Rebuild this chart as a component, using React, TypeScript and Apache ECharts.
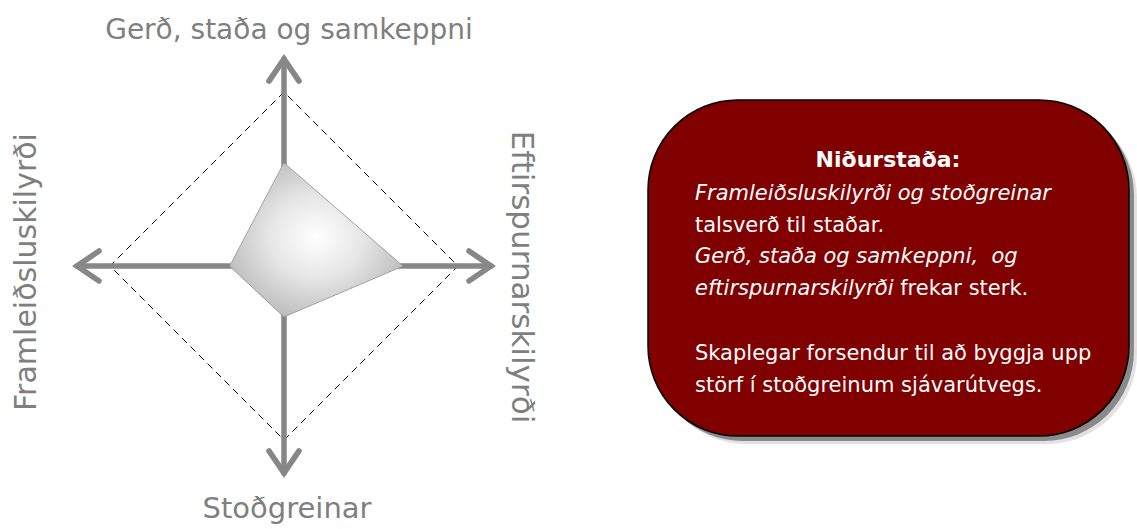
import React, { useEffect, useRef } from "react";
import * as echarts from "echarts";

const indicatorNames = [
  "Gerð, staða og samkeppni",
  "Framleiðsluskilyrði",
  "Stoðgreinar",
  "Eftirspurnarskilyrði",
];
const scores = [5.9, 3.1, 2.9, 6.8];
const maxScore = 10;

const boxTitle = "Niðurstaða:";
const boxLines = [
  "{i|Framleiðsluskilyrði og stoðgreinar}",
  "{n|talsverð til staðar.}",
  "{i|Gerð, staða og samkeppni,  og}",
  "{i|eftirspurnarskilyrði}{n| frekar sterk.}",
  "",
  "{n|Skaplegar forsendur til að byggja upp}",
  "{n|störf í stoðgreinum sjávarútvegs.}",
];

const FONT = '"DejaVu Sans", sans-serif';
const CHEVRON =
  "path://M-17.31 20.42L0 -4.97L17.31 20.42A2.8 2.8 0 0 1 12.69 23.58L0 4.97L-12.69 23.58A2.8 2.8 0 0 1 -17.31 20.42Z";

export default function App() {
  const ref = useRef<HTMLDivElement>(null);
  useEffect(() => {
    if (!ref.current) return;
    const chart = echarts.init(ref.current, undefined, { renderer: "svg" });
    const cx = 284;
    const cy = 266;
    const lineY = [193, 225, 256, 288, 320, 353, 385];
    const textEls: any[] = [];
    boxLines.forEach((ln, i) => {
      if (!ln) return;
      textEls.push({
        type: "text",
        x: 695,
        y: lineY[i],
        style: {
          text: ln,
          fill: "#fff",
          font: `21px ${FONT}`,
          align: "left",
          verticalAlign: "middle",
          rich: {
            i: { fontStyle: "italic", fontSize: 21, fontFamily: "DejaVu Sans", color: "#fff" },
            n: { fontSize: 21, fontFamily: "DejaVu Sans", color: "#fff" },
          },
        },
      });
    });
    chart.setOption({
      animation: false,
      backgroundColor: "#fff",
      radar: [
        {
          center: [cx, cy],
          radius: 207,
          startAngle: 90,
          shape: "polygon",
          splitNumber: 1,
          indicator: indicatorNames.map((n) => ({ name: n, max: maxScore })),
          axisName: { show: false },
          splitLine: { show: false },
          splitArea: { show: false },
          axisTick: { show: false },
          axisLabel: { show: false },
          axisLine: {
            show: true,
            symbol: ["none", CHEVRON],
            symbolSize: [35.6, 29.8],
            symbolOffset: [0, -9.9],
            lineStyle: { color: "#878787", width: 5.5 },
          },
        },
        {
          center: [cx, cy],
          radius: 174,
          startAngle: 90,
          shape: "polygon",
          splitNumber: 1,
          indicator: indicatorNames.map((n) => ({ name: n, max: maxScore })),
          axisName: { show: false },
          splitArea: { show: false },
          axisTick: { show: false },
          axisLabel: { show: false },
          axisLine: { show: false },
          splitLine: {
            show: true,
            lineStyle: { color: "#000", width: 1, type: [7, 5] },
          },
        },
      ],
      series: [
        {
          type: "radar",
          radarIndex: 1,
          symbol: "none",
          silent: true,
          data: [
            {
              value: scores,
              lineStyle: { color: "#9a9a9a", width: 1.5 },
              areaStyle: {
                opacity: 1,
                color: {
                  type: "radial",
                  x: 0.5,
                  y: 0.48,
                  r: 0.6,
                  colorStops: [
                    { offset: 0, color: "#ffffff" },
                    { offset: 0.45, color: "#e6e6e6" },
                    { offset: 1, color: "#b5b5b5" },
                  ],
                },
              },
            },
          ],
        },
      ],
      graphic: [
        {
          type: "text",
          x: 289,
          y: 29,
          style: { text: indicatorNames[0], font: `28px ${FONT}`, fill: "#7f7f7f", align: "center", verticalAlign: "middle" },
        },
        {
          type: "text",
          x: 287,
          y: 508,
          style: { text: indicatorNames[2], font: `29px ${FONT}`, fill: "#7f7f7f", align: "center", verticalAlign: "middle" },
        },
        {
          type: "text",
          x: 25,
          y: 272,
          rotation: Math.PI / 2,
          style: { text: indicatorNames[1], font: `30px ${FONT}`, fill: "#7f7f7f", align: "center", verticalAlign: "middle" },
        },
        {
          type: "text",
          x: 523,
          y: 277,
          rotation: -Math.PI / 2,
          style: { text: indicatorNames[3], font: `31px ${FONT}`, fill: "#7f7f7f", align: "center", verticalAlign: "middle" },
        },
        {
          type: "group",
          children: [
            { type: "rect", shape: { x: 656, y: 108, width: 481, height: 336, r: 90 }, style: { fill: "#e2e2e2" } },
            { type: "rect", shape: { x: 653, y: 105, width: 481, height: 336, r: 90 }, style: { fill: "#8a8a8a" } },
            { type: "rect", shape: { x: 648, y: 100, width: 481, height: 336, r: 90 }, style: { fill: "#800000", stroke: "#000", lineWidth: 1.5 } },
            {
              type: "text",
              x: 888,
              y: 159,
              style: { text: boxTitle, font: `bold 22px ${FONT}`, fill: "#fff", align: "center", verticalAlign: "middle" },
            },
            ...textEls,
          ],
        },
      ],
    });
    return () => chart.dispose();
  }, []);
  return (
    <div
      ref={ref}
      style={{ position: "fixed", left: 0, top: 0, width: 1137, height: 529 }}
    />
  );
}
